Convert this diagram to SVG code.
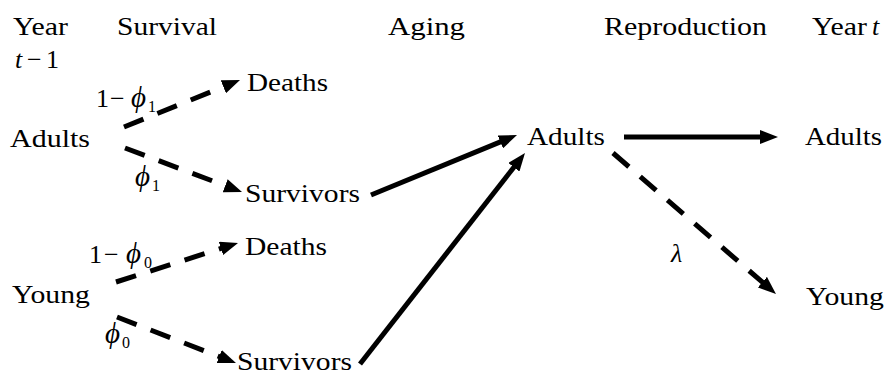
<svg xmlns="http://www.w3.org/2000/svg" width="890" height="381" viewBox="0 0 890 381" font-family="Liberation Serif, Times New Roman, serif" font-size="26">
<style>
text{fill:#000}
.it{font-style:italic}
.phi{font-style:italic;font-size:29px}
.sub{font-size:16px}
.dash{stroke:#000;stroke-width:5;fill:none;stroke-dasharray:21 15}
.solid{stroke:#000;stroke-width:5;fill:none}
</style>
<defs>
<marker id="ah" markerUnits="userSpaceOnUse" markerWidth="18" markerHeight="14" refX="6" refY="7" orient="auto" viewBox="0 0 18 14">
<path d="M0,0 L18,7 L0,14 z" fill="#000"/>
</marker>
</defs>
<g id="headers">
<text x="13" y="35" textLength="55" lengthAdjust="spacingAndGlyphs">Year</text>
<text x="15" y="68" class="it">t</text>
<text x="27" y="68">−</text>
<text x="46" y="68">1</text>
<text x="117" y="35" textLength="100" lengthAdjust="spacingAndGlyphs">Survival</text>
<text x="388" y="35" textLength="77" lengthAdjust="spacingAndGlyphs">Aging</text>
<text x="604" y="35" textLength="163" lengthAdjust="spacingAndGlyphs">Reproduction</text>
<text x="812" y="35" textLength="55" lengthAdjust="spacingAndGlyphs">Year</text>
<text x="872" y="35" class="it">t</text>
</g>
<g id="adults0"><text x="10" y="147" textLength="80" lengthAdjust="spacingAndGlyphs">Adults</text></g>
<g id="young0"><text x="12" y="303" textLength="78" lengthAdjust="spacingAndGlyphs">Young</text></g>
<g id="deaths1"><text x="247" y="91" textLength="81" lengthAdjust="spacingAndGlyphs">Deaths</text></g>
<g id="survivors1"><text x="245" y="202" textLength="115" lengthAdjust="spacingAndGlyphs">Survivors</text></g>
<g id="deaths0"><text x="245" y="255" textLength="82" lengthAdjust="spacingAndGlyphs">Deaths</text></g>
<g id="survivors0"><text x="237" y="370" textLength="115" lengthAdjust="spacingAndGlyphs">Survivors</text></g>
<g id="adultsMid"><text x="527" y="145" textLength="78" lengthAdjust="spacingAndGlyphs">Adults</text></g>
<g id="adultsT"><text x="805" y="145" textLength="77" lengthAdjust="spacingAndGlyphs">Adults</text></g>
<g id="youngT"><text x="806" y="305" textLength="78" lengthAdjust="spacingAndGlyphs">Young</text></g>
<g id="connectors">
<line class="dash" x1="124" y1="127" x2="228.9" y2="84.5" marker-end="url(#ah)"/>
<line class="dash" x1="125" y1="148" x2="230.8" y2="187.8" marker-end="url(#ah)"/>
<line class="dash" x1="116" y1="282" x2="226.6" y2="246.6" marker-end="url(#ah)"/>
<line class="dash" x1="117" y1="317" x2="224.8" y2="358.7" marker-end="url(#ah)"/>
<line class="solid" x1="371" y1="195" x2="505.9" y2="139.6" marker-end="url(#ah)"/>
<line class="solid" x1="360" y1="364" x2="517.6" y2="162.5" marker-end="url(#ah)"/>
<line class="solid" x1="624" y1="137" x2="766" y2="137" marker-end="url(#ah)"/>
<line class="dash" x1="613" y1="153" x2="766.9" y2="286.1" marker-end="url(#ah)"/>
</g>
<g id="labels">
<text x="96" y="107">1</text><text x="110" y="107">−</text><text x="131" y="107" class="phi">ϕ</text><text x="148" y="112" class="sub">1</text>
<text x="135" y="186" class="phi">ϕ</text><text x="152" y="191" class="sub">1</text>
<text x="89" y="263">1</text><text x="104" y="263">−</text><text x="126" y="263" class="phi">ϕ</text><text x="144" y="268" class="sub">0</text>
<text x="105" y="343" class="phi">ϕ</text><text x="122" y="348" class="sub">0</text>
<text class="it" x="671" y="262">λ</text>
</g>
</svg>
